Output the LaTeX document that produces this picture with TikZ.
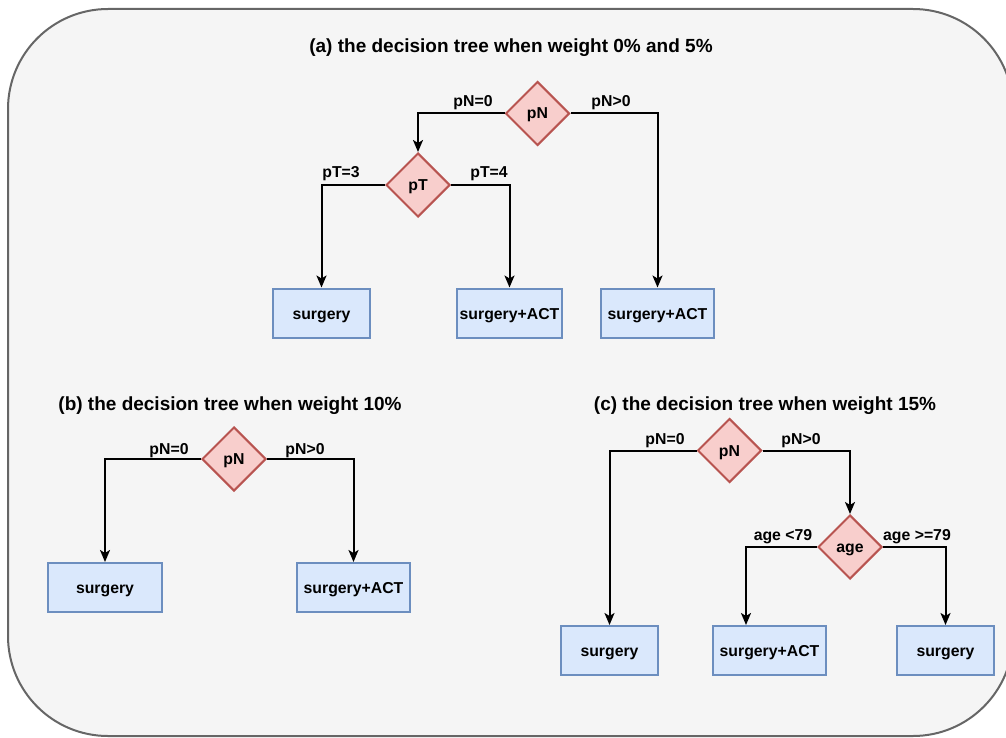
\documentclass[tikz,border=0pt]{standalone}
\usepackage{fontspec}
\setmainfont{Liberation Sans}
\usetikzlibrary{shapes.geometric,arrows.meta}
\definecolor{bgfill}{HTML}{F5F5F5}
\definecolor{bgline}{HTML}{666666}
\definecolor{dfill}{HTML}{F8CECC}
\definecolor{dline}{HTML}{B85450}
\definecolor{bfill}{HTML}{DAE8FC}
\definecolor{bline}{HTML}{6C8EBF}
\tikzset{
  x=1pt, y=-1pt,
  dec/.style={diamond, aspect=1, draw=dline, fill=dfill, line width=2pt, minimum width=64pt, minimum height=64pt, inner sep=0pt, text height=14pt, text depth=3pt, font=\fontsize{15.8}{18}\selectfont\bfseries},
  leaf/.style={rectangle, draw=bline, fill=bfill, line width=2pt, minimum height=49pt, inner sep=0pt, text height=15pt, text depth=3pt, font=\fontsize{15.8}{18}\selectfont\bfseries},
  elabel/.style={font=\fontsize{15.8}{18}\selectfont\bfseries, inner sep=0pt},
  ttl/.style={font=\fontsize{19}{22}\selectfont\bfseries, inner sep=0pt},
  conn/.style={line width=2pt, -{Stealth[width=10pt,length=12pt,inset=3pt]}},
}
\begin{document}
\begin{tikzpicture}
\useasboundingbox (0,0) rectangle (1006,738);
\clip (0,0) rectangle (1006,738);
\draw[bgline, fill=bgfill, line width=2pt, rounded corners=100pt] (8,9) rectangle (1013,736);

% (a)
\node[ttl] (ta) at (511,48) {(a) the decision tree when weight 0\% and 5\%};
\node[dec] (apN) at (537.5,113.5) {pN};
\node[dec] (apT) at (418,185) {pT};
\node[leaf, minimum width=97pt] (a1) at (321.5,313) {surgery};
\node[leaf, minimum width=105pt] (a2) at (509.5,313) {surgery+ACT};
\node[leaf, minimum width=113pt] (a3) at (657.5,313) {surgery+ACT};
\draw[conn] (apN.west) -| (apT.north);
\draw[conn] (apN.east) -| (a3.north);
\draw[conn] (apT.west) -| (a1.north);
\draw[conn] (apT.east) -| (a2.north);
\node[elabel] (la1) at (473,103) {pN=0};
\node[elabel] (la2) at (611,103) {pN>0};
\node[elabel] (la3) at (341,174) {pT=3};
\node[elabel] (la4) at (489,174) {pT=4};

% (b)
\node[ttl] (tb) at (230,406) {(b) the decision tree when weight 10\%};
\node[dec] (bpN) at (234,459) {pN};
\node[leaf, minimum width=114pt] (b1) at (105,587.5) {surgery};
\node[leaf, minimum width=113pt] (b2) at (353.5,587.5) {surgery+ACT};
\draw[conn] (bpN.west) -| (b1.north);
\draw[conn] (bpN.east) -| (b2.north);
\node[elabel] (lb1) at (169,451) {pN=0};
\node[elabel] (lb2) at (305,451) {pN>0};

% (c)
\node[ttl] (tc) at (765,406) {(c) the decision tree when weight 15\%};
\node[dec] (cpN) at (729.5,450.5) {pN};
\node[dec] (cage) at (850,547) {age};
\node[leaf, minimum width=97pt] (c1) at (609.5,650.5) {surgery};
\node[leaf, minimum width=113pt] (c2) at (769.5,650.5) {surgery+ACT};
\node[leaf, minimum width=97pt] (c3) at (945.5,650.5) {surgery};
\draw[conn] (cpN.west) -| (c1.north);
\draw[conn] (cpN.east) -| (cage.north);
\draw[conn] (cage.west) -| ([xshift=-23.5pt]c2.north);
\draw[conn] (cage.east) -| (c3.north);
\node[elabel] (lc1) at (665,441) {pN=0};
\node[elabel] (lc2) at (801,441) {pN>0};
\node[elabel] (lc3) at (783,537) {age <79};
\node[elabel] (lc4) at (917,537) {age >=79};
\end{tikzpicture}
\end{document}
